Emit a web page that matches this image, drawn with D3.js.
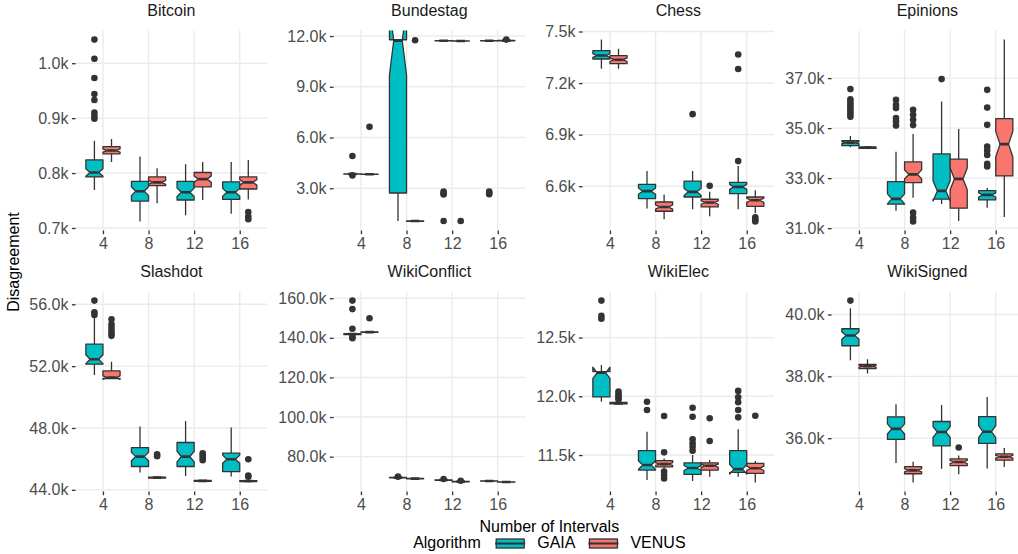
<!DOCTYPE html>
<html lang="en">
<head>
<meta charset="utf-8">
<title>Disagreement by number of intervals</title>
<style>
  body { margin: 0; background: white; }
  svg { display: block; font-family: "Liberation Sans", Arial, Helvetica, sans-serif; }
</style>
</head>
<body>
<script src="https://cdn.jsdelivr.net/npm/d3@7"></script>
<div id="chart"></div>
<script>
// ---- data (disagreement values in thousands) ----
var intervals = [4, 8, 12, 16];
var algorithms = ["GAIA", "VENUS"];
var runsPerBox = 50;

// interval, algorithm, lower whisker, Q1, median, Q3, upper whisker, outliers
var bitcoin = [
  [4, "GAIA", 0.769, 0.793, 0.801, 0.824, 0.859, [1.043, 1.008, 0.973, 0.944, 0.933, 0.910, 0.904, 0.899]],
  [4, "VENUS", 0.820, 0.835, 0.841, 0.848, 0.862, []],
  [8, "GAIA", 0.712, 0.749, 0.767, 0.785, 0.830, []],
  [8, "VENUS", 0.745, 0.777, 0.783, 0.793, 0.809, []],
  [12, "GAIA", 0.723, 0.751, 0.765, 0.785, 0.816, []],
  [12, "VENUS", 0.751, 0.775, 0.789, 0.801, 0.820, []],
  [16, "GAIA", 0.726, 0.752, 0.765, 0.784, 0.820, []],
  [16, "VENUS", 0.752, 0.771, 0.783, 0.793, 0.824, [0.729, 0.721, 0.716]]
];
var bundestag = [
  [4, "GAIA", 3.82, 3.83, 3.84, 3.85, 3.86, [4.91, 3.76]],
  [4, "VENUS", 3.81, 3.82, 3.83, 3.84, 3.85, [6.63]],
  [8, "GAIA", 1.06, 2.72, 11.72, 11.78, 11.78, []],
  [8, "VENUS", 1.04, 1.05, 1.06, 1.07, 1.08, [11.75]],
  [12, "GAIA", 11.70, 11.71, 11.72, 11.73, 11.74, [2.80, 2.70, 2.63, 1.06]],
  [12, "VENUS", 11.69, 11.70, 11.71, 11.72, 11.73, [1.06]],
  [16, "GAIA", 11.70, 11.71, 11.72, 11.73, 11.74, [2.80, 2.72, 2.65]],
  [16, "VENUS", 11.71, 11.72, 11.73, 11.74, 11.75, [11.79]]
];
var chess = [
  [4, "GAIA", 7.284, 7.340, 7.360, 7.389, 7.453, []],
  [4, "VENUS", 7.284, 7.313, 7.336, 7.360, 7.399, []],
  [8, "GAIA", 6.470, 6.528, 6.571, 6.610, 6.689, []],
  [8, "VENUS", 6.407, 6.454, 6.479, 6.508, 6.551, []],
  [12, "GAIA", 6.466, 6.537, 6.567, 6.629, 6.689, [7.019]],
  [12, "VENUS", 6.425, 6.479, 6.505, 6.524, 6.567, [6.602]],
  [16, "GAIA", 6.466, 6.557, 6.596, 6.622, 6.717, [7.366, 7.282, 6.746]],
  [16, "VENUS", 6.442, 6.483, 6.518, 6.537, 6.577, [6.419, 6.405, 6.395]]
];
var epinions = [
  [4, "GAIA", 34.24, 34.30, 34.42, 34.50, 34.69, [36.56, 36.15, 36.05, 35.95, 35.85, 35.75, 35.65, 35.55, 35.45]],
  [4, "VENUS", 34.16, 34.19, 34.22, 34.25, 34.28, []],
  [8, "GAIA", 31.70, 31.96, 32.17, 32.86, 34.06, [36.13, 35.93, 35.80, 35.40, 35.26, 35.10]],
  [8, "VENUS", 32.22, 32.82, 33.15, 33.65, 34.77, [35.73, 35.53, 35.33, 35.12, 31.62, 31.42, 31.27]],
  [12, "GAIA", 31.97, 32.16, 32.49, 33.97, 36.06, [36.96]],
  [12, "VENUS", 31.29, 31.80, 32.97, 33.76, 34.96, []],
  [16, "GAIA", 31.82, 32.13, 32.33, 32.50, 32.61, [36.53, 35.82, 35.13, 34.26, 34.10, 33.93, 33.57, 33.47]],
  [16, "VENUS", 31.45, 33.09, 34.36, 35.38, 38.54, []]
];
var slashdot = [
  [4, "GAIA", 51.43, 52.13, 52.45, 53.42, 55.14, [56.24, 55.49, 55.31]],
  [4, "VENUS", 51.17, 51.20, 51.26, 51.69, 52.29, [55.03, 54.71, 54.49, 54.28, 54.10, 53.96]],
  [8, "GAIA", 45.12, 45.51, 46.15, 46.73, 48.09, []],
  [8, "VENUS", 44.72, 44.76, 44.79, 44.82, 44.86, [46.30, 46.18]],
  [12, "GAIA", 44.90, 45.51, 46.15, 47.06, 48.46, []],
  [12, "VENUS", 44.52, 44.55, 44.58, 44.61, 44.64, [46.37, 46.22, 46.07, 45.92]],
  [16, "GAIA", 44.86, 45.18, 45.98, 46.37, 48.03, []],
  [16, "VENUS", 44.48, 44.54, 44.57, 44.60, 44.63, [45.98, 44.92, 44.85]]
];
var wikiConflict = [
  [4, "GAIA", 141.4, 141.6, 141.9, 142.1, 142.3, [158.8, 154.5, 144.6, 140.4, 139.8]],
  [4, "VENUS", 142.6, 142.8, 142.9, 143.0, 143.2, [149.9]],
  [8, "GAIA", 69.2, 69.3, 69.4, 69.5, 69.6, [69.9]],
  [8, "VENUS", 68.7, 68.8, 68.9, 69.0, 69.1, []],
  [12, "GAIA", 68.0, 68.1, 68.2, 68.3, 68.4, [68.7]],
  [12, "VENUS", 67.2, 67.3, 67.4, 67.5, 67.6, [67.8]],
  [16, "GAIA", 67.5, 67.6, 67.7, 67.8, 67.9, []],
  [16, "VENUS", 67.0, 67.1, 67.2, 67.3, 67.4, []]
];
var wikiElec = [
  [4, "GAIA", 11.954, 11.995, 12.200, 12.210, 12.267, [12.815, 12.685, 12.660]],
  [4, "VENUS", 11.930, 11.935, 11.940, 11.948, 11.955, [12.040, 12.020, 12.000, 11.985, 11.970]],
  [8, "GAIA", 11.287, 11.372, 11.415, 11.537, 11.699, [11.954, 11.884]],
  [8, "VENUS", 11.385, 11.400, 11.423, 11.452, 11.470, [11.832, 11.523, 11.360, 11.330, 11.300]],
  [12, "GAIA", 11.278, 11.335, 11.390, 11.434, 11.500, [11.903, 11.826, 11.634, 11.600, 11.571, 11.537]],
  [12, "VENUS", 11.315, 11.372, 11.409, 11.434, 11.457, [11.813, 11.620]],
  [16, "GAIA", 11.315, 11.352, 11.380, 11.537, 11.720, [12.046, 11.992, 11.950, 11.884, 11.821]],
  [16, "VENUS", 11.267, 11.344, 11.387, 11.429, 11.449, [11.835]]
];
var wikiSigned = [
  [4, "GAIA", 38.52, 38.99, 39.32, 39.54, 40.20, [40.45]],
  [4, "VENUS", 38.09, 38.25, 38.33, 38.39, 38.55, []],
  [8, "GAIA", 35.20, 35.96, 36.30, 36.69, 37.10, []],
  [8, "VENUS", 34.57, 34.85, 34.96, 35.08, 35.24, []],
  [12, "GAIA", 35.01, 35.75, 36.20, 36.54, 37.07, []],
  [12, "VENUS", 34.83, 35.11, 35.23, 35.33, 35.44, [35.70]],
  [16, "GAIA", 35.02, 35.83, 36.21, 36.70, 37.33, []],
  [16, "VENUS", 35.07, 35.29, 35.40, 35.49, 35.68, []]
];

var bitcoinTicks = [0.7, 0.8, 0.9, 1.0];
var bundestagTicks = [3, 6, 9, 12];
var chessTicks = [6.6, 6.9, 7.2, 7.5];
var epinionsTicks = [31, 33, 35, 37];
var slashdotTicks = [44, 48, 52, 56];
var wikiConflictTicks = [80, 100, 120, 140, 160];
var wikiElecTicks = [11.5, 12.0, 12.5];
var wikiSignedTicks = [36, 38, 40];

var panels = [
  {name: "Bitcoin", boxes: bitcoin, ticks: bitcoinTicks},
  {name: "Bundestag", boxes: bundestag, ticks: bundestagTicks},
  {name: "Chess", boxes: chess, ticks: chessTicks},
  {name: "Epinions", boxes: epinions, ticks: epinionsTicks},
  {name: "Slashdot", boxes: slashdot, ticks: slashdotTicks},
  {name: "WikiConflict", boxes: wikiConflict, ticks: wikiConflictTicks},
  {name: "WikiElec", boxes: wikiElec, ticks: wikiElecTicks},
  {name: "WikiSigned", boxes: wikiSigned, ticks: wikiSignedTicks}
];

// ---- layout / style ----
var width = 1018, height = 554;
var colLeft = [75.6, 333.6, 582.6, 831.6];
var rowTop = [30.5, 291.5];
var panelW = 191.5, panelH = 200;
var fills = {GAIA: "#00BFC4", VENUS: "#F8766D"};
var ink = "#333333";
var gridCol = "#EBEBEB";
var lineW = 1.3;
var tickLen = 3.7;
var fmtK = function(v) { return d3.format(".1f")(v) + "k"; };

var svg = d3.select("#chart").append("svg")
    .attr("width", width)
    .attr("height", height);

var defs = svg.append("defs");

panels.forEach(function(p, i) {
    var col = i % 4, row = Math.floor(i / 4);
    var left = colLeft[col], top = rowTop[row];

    var xScale = d3.scalePoint()
        .domain(intervals)
        .range([left, left + panelW])
        .padding(0.6);
    var step = xScale.step();
    var boxW = step * 0.375;
    var dodge = {GAIA: -step * 0.1875, VENUS: step * 0.1875};

    var all = [];
    p.boxes.forEach(function(b) {
        all.push(b[2], b[3], b[4], b[5], b[6]);
        b[7].forEach(function(o) { all.push(o); });
    });
    var ext = d3.extent(all);
    var pad = (ext[1] - ext[0]) * 0.05;
    var yScale = d3.scaleLinear()
        .domain([ext[0] - pad, ext[1] + pad])
        .range([top + panelH, top]);

    var g = svg.append("g");

    // grid
    g.selectAll(".hgrid").data(p.ticks).enter().append("line")
        .attr("x1", left).attr("x2", left + panelW)
        .attr("y1", function(d) { return yScale(d); })
        .attr("y2", function(d) { return yScale(d); })
        .attr("stroke", gridCol).attr("stroke-width", 1.4);
    g.selectAll(".vgrid").data(intervals).enter().append("line")
        .attr("x1", function(d) { return xScale(d); })
        .attr("x2", function(d) { return xScale(d); })
        .attr("y1", top).attr("y2", top + panelH)
        .attr("stroke", gridCol).attr("stroke-width", 1.4);

    // axes
    var yAxis = d3.axisLeft(yScale).tickValues(p.ticks).tickFormat(fmtK)
        .tickSize(tickLen).tickPadding(3.5);
    var ya = g.append("g").attr("transform", "translate(" + left + ",0)").call(yAxis);
    var xAxis = d3.axisBottom(xScale).tickSize(tickLen).tickPadding(3.2);
    var xa = g.append("g").attr("transform", "translate(0," + (top + panelH) + ")").call(xAxis);
    [ya, xa].forEach(function(a) {
        a.select(".domain").remove();
        a.selectAll(".tick line").attr("stroke", ink).attr("stroke-width", lineW);
        a.selectAll(".tick text").attr("fill", "#4D4D4D")
            .style("font-size", "16px")
            .style("font-family", "'Liberation Sans', Arial, sans-serif");
    });

    // strip title
    g.append("text")
        .attr("x", left + panelW / 2)
        .attr("y", top - 14.3)
        .attr("text-anchor", "middle")
        .attr("fill", "#1A1A1A")
        .style("font-size", "16px")
        .text(p.name);

    // boxes
    defs.append("clipPath").attr("id", "clip" + i)
        .append("rect").attr("x", left).attr("y", top)
        .attr("width", panelW).attr("height", panelH);
    var pg = g.append("g").attr("clip-path", "url(#clip" + i + ")");

    p.boxes.forEach(function(b) {
        var cx = xScale(b[0]) + dodge[b[1]];
        var lo = b[2], q1 = b[3], med = b[4], q3 = b[5], hi = b[6];
        var notch = 1.58 * (q3 - q1) / Math.sqrt(runsPerBox);
        var nl = med - notch, nu = med + notch;
        var x0 = cx - boxW / 2, x1 = cx + boxW / 2, ind = boxW / 4;
        var bg = pg.append("g");

        bg.selectAll("circle").data(b[7]).enter().append("circle")
            .attr("cx", cx)
            .attr("cy", function(d) { return yScale(d); })
            .attr("r", 3.3)
            .attr("fill", ink);

        bg.append("line").attr("x1", cx).attr("x2", cx)
            .attr("y1", yScale(hi)).attr("y2", yScale(q3))
            .attr("stroke", ink).attr("stroke-width", lineW);
        bg.append("line").attr("x1", cx).attr("x2", cx)
            .attr("y1", yScale(q1)).attr("y2", yScale(lo))
            .attr("stroke", ink).attr("stroke-width", lineW);

        var pts = [
            [x0, q3], [x0, nu], [x0 + ind, med], [x0, nl], [x0, q1],
            [x1, q1], [x1, nl], [x1 - ind, med], [x1, nu], [x1, q3]
        ].map(function(d) { return [d[0], yScale(d[1])]; });
        bg.append("path")
            .attr("d", d3.line()(pts) + "Z")
            .attr("fill", fills[b[1]])
            .attr("stroke", ink)
            .attr("stroke-width", lineW)
            .attr("stroke-linejoin", "round");
        bg.append("line")
            .attr("x1", x0 + ind).attr("x2", x1 - ind)
            .attr("y1", yScale(med)).attr("y2", yScale(med))
            .attr("stroke", ink).attr("stroke-width", lineW * 2);
    });
});

// axis titles
var plotMid = (colLeft[0] + colLeft[3] + panelW) / 2;
svg.append("text")
    .attr("x", plotMid).attr("y", 531.5)
    .attr("text-anchor", "middle")
    .style("font-size", "16px")
    .text("Number of Intervals");
svg.append("text")
    .attr("transform", "translate(19," + ((rowTop[0] + rowTop[1] + panelH) / 2 + 1) + ") rotate(-90)")
    .attr("text-anchor", "middle")
    .style("font-size", "16px")
    .text("Disagreement");

// legend
var legend = svg.append("g");
var legY = 547.5;
var keyW = 28, keyH = 9;
var title = legend.append("text").attr("y", legY).style("font-size", "16px").text("Algorithm");
var labels = algorithms.map(function(a) {
    return legend.append("text").attr("y", legY).style("font-size", "16px").text(a);
});
var titleW = title.node().getComputedTextLength();
var labelW = labels.map(function(t) { return t.node().getComputedTextLength(); });
var total = titleW + 15.5 + (keyW + 13) * 2 + labelW[0] + 14 + labelW[1];
var lx = plotMid - total / 2;
title.attr("x", lx);
lx += titleW + 15.5;
algorithms.forEach(function(a, k) {
    legend.append("rect")
        .attr("x", lx).attr("y", legY - 8.5)
        .attr("width", keyW).attr("height", keyH)
        .attr("fill", fills[a]).attr("stroke", ink).attr("stroke-width", lineW);
    legend.append("line")
        .attr("x1", lx - 1).attr("x2", lx + keyW + 1)
        .attr("y1", legY - 4).attr("y2", legY - 4)
        .attr("stroke", ink).attr("stroke-width", lineW * 1.6);
    lx += keyW + 13;
    labels[k].attr("x", lx);
    lx += labelW[k] + 14;
});
</script>
</body>
</html>
